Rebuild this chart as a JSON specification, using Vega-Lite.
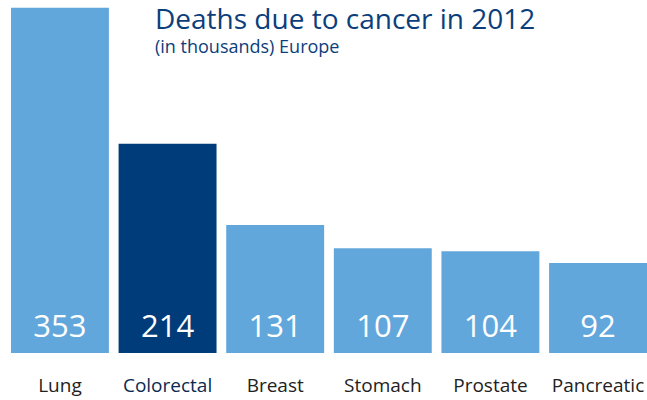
{
  "$schema": "https://vega.github.io/schema/vega-lite/v6.json",
  "width": 647,
  "height": 353,
  "autosize": "none",
  "padding": {"top": 0, "left": 0, "right": 0, "bottom": 47},
  "background": "white",
  "title": {
    "text": "Deaths due to cancer in 2012",
    "subtitle": "(in thousands) Europe",
    "anchor": "start",
    "frame": "group",
    "dx": 155,
    "offset": -57,
    "font": "Open Sans",
    "fontSize": 28,
    "fontWeight": "normal",
    "color": "#0b3e7a",
    "subtitleFont": "Open Sans",
    "subtitleFontSize": 18,
    "subtitleColor": "#0b3e7a",
    "subtitlePadding": 4
  },
  "data": {
    "values": [
      {"cancer": "Lung", "deaths": 353},
      {"cancer": "Colorectal", "deaths": 214},
      {"cancer": "Breast", "deaths": 131},
      {"cancer": "Stomach", "deaths": 107},
      {"cancer": "Prostate", "deaths": 104},
      {"cancer": "Pancreatic", "deaths": 92}
    ]
  },
  "config": {"view": {"stroke": null}},
  "encoding": {
    "x": {
      "field": "cancer",
      "type": "nominal",
      "sort": null,
      "scale": {"paddingInner": 0.09, "paddingOuter": 0.051, "align": 1},
      "axis": {
        "title": null,
        "ticks": false,
        "domain": false,
        "labelAngle": 0,
        "labelPadding": 23,
        "labelFont": "Open Sans",
        "labelFontSize": 19,
        "labelColor": {"condition": {"test": "datum.value == 'Colorectal'", "value": "#0a2a50"}, "value": "#222222"}
      }
    }
  },
  "layer": [
    {
      "mark": {"type": "bar"},
      "encoding": {
        "y": {"field": "deaths", "type": "quantitative", "scale": {"domain": [0, 361], "nice": false}, "axis": null},
        "color": {"condition": {"test": "datum.cancer == 'Colorectal'", "value": "#003b7a"}, "value": "#62a7dc"}
      }
    },
    {
      "mark": {"type": "text", "color": "white", "font": "Open Sans", "fontSize": 31, "baseline": "alphabetic", "dy": -16},
      "encoding": {
        "y": {"datum": 0, "type": "quantitative", "scale": {"domain": [0, 361], "nice": false}},
        "text": {"field": "deaths", "type": "quantitative"}
      }
    }
  ]
}
